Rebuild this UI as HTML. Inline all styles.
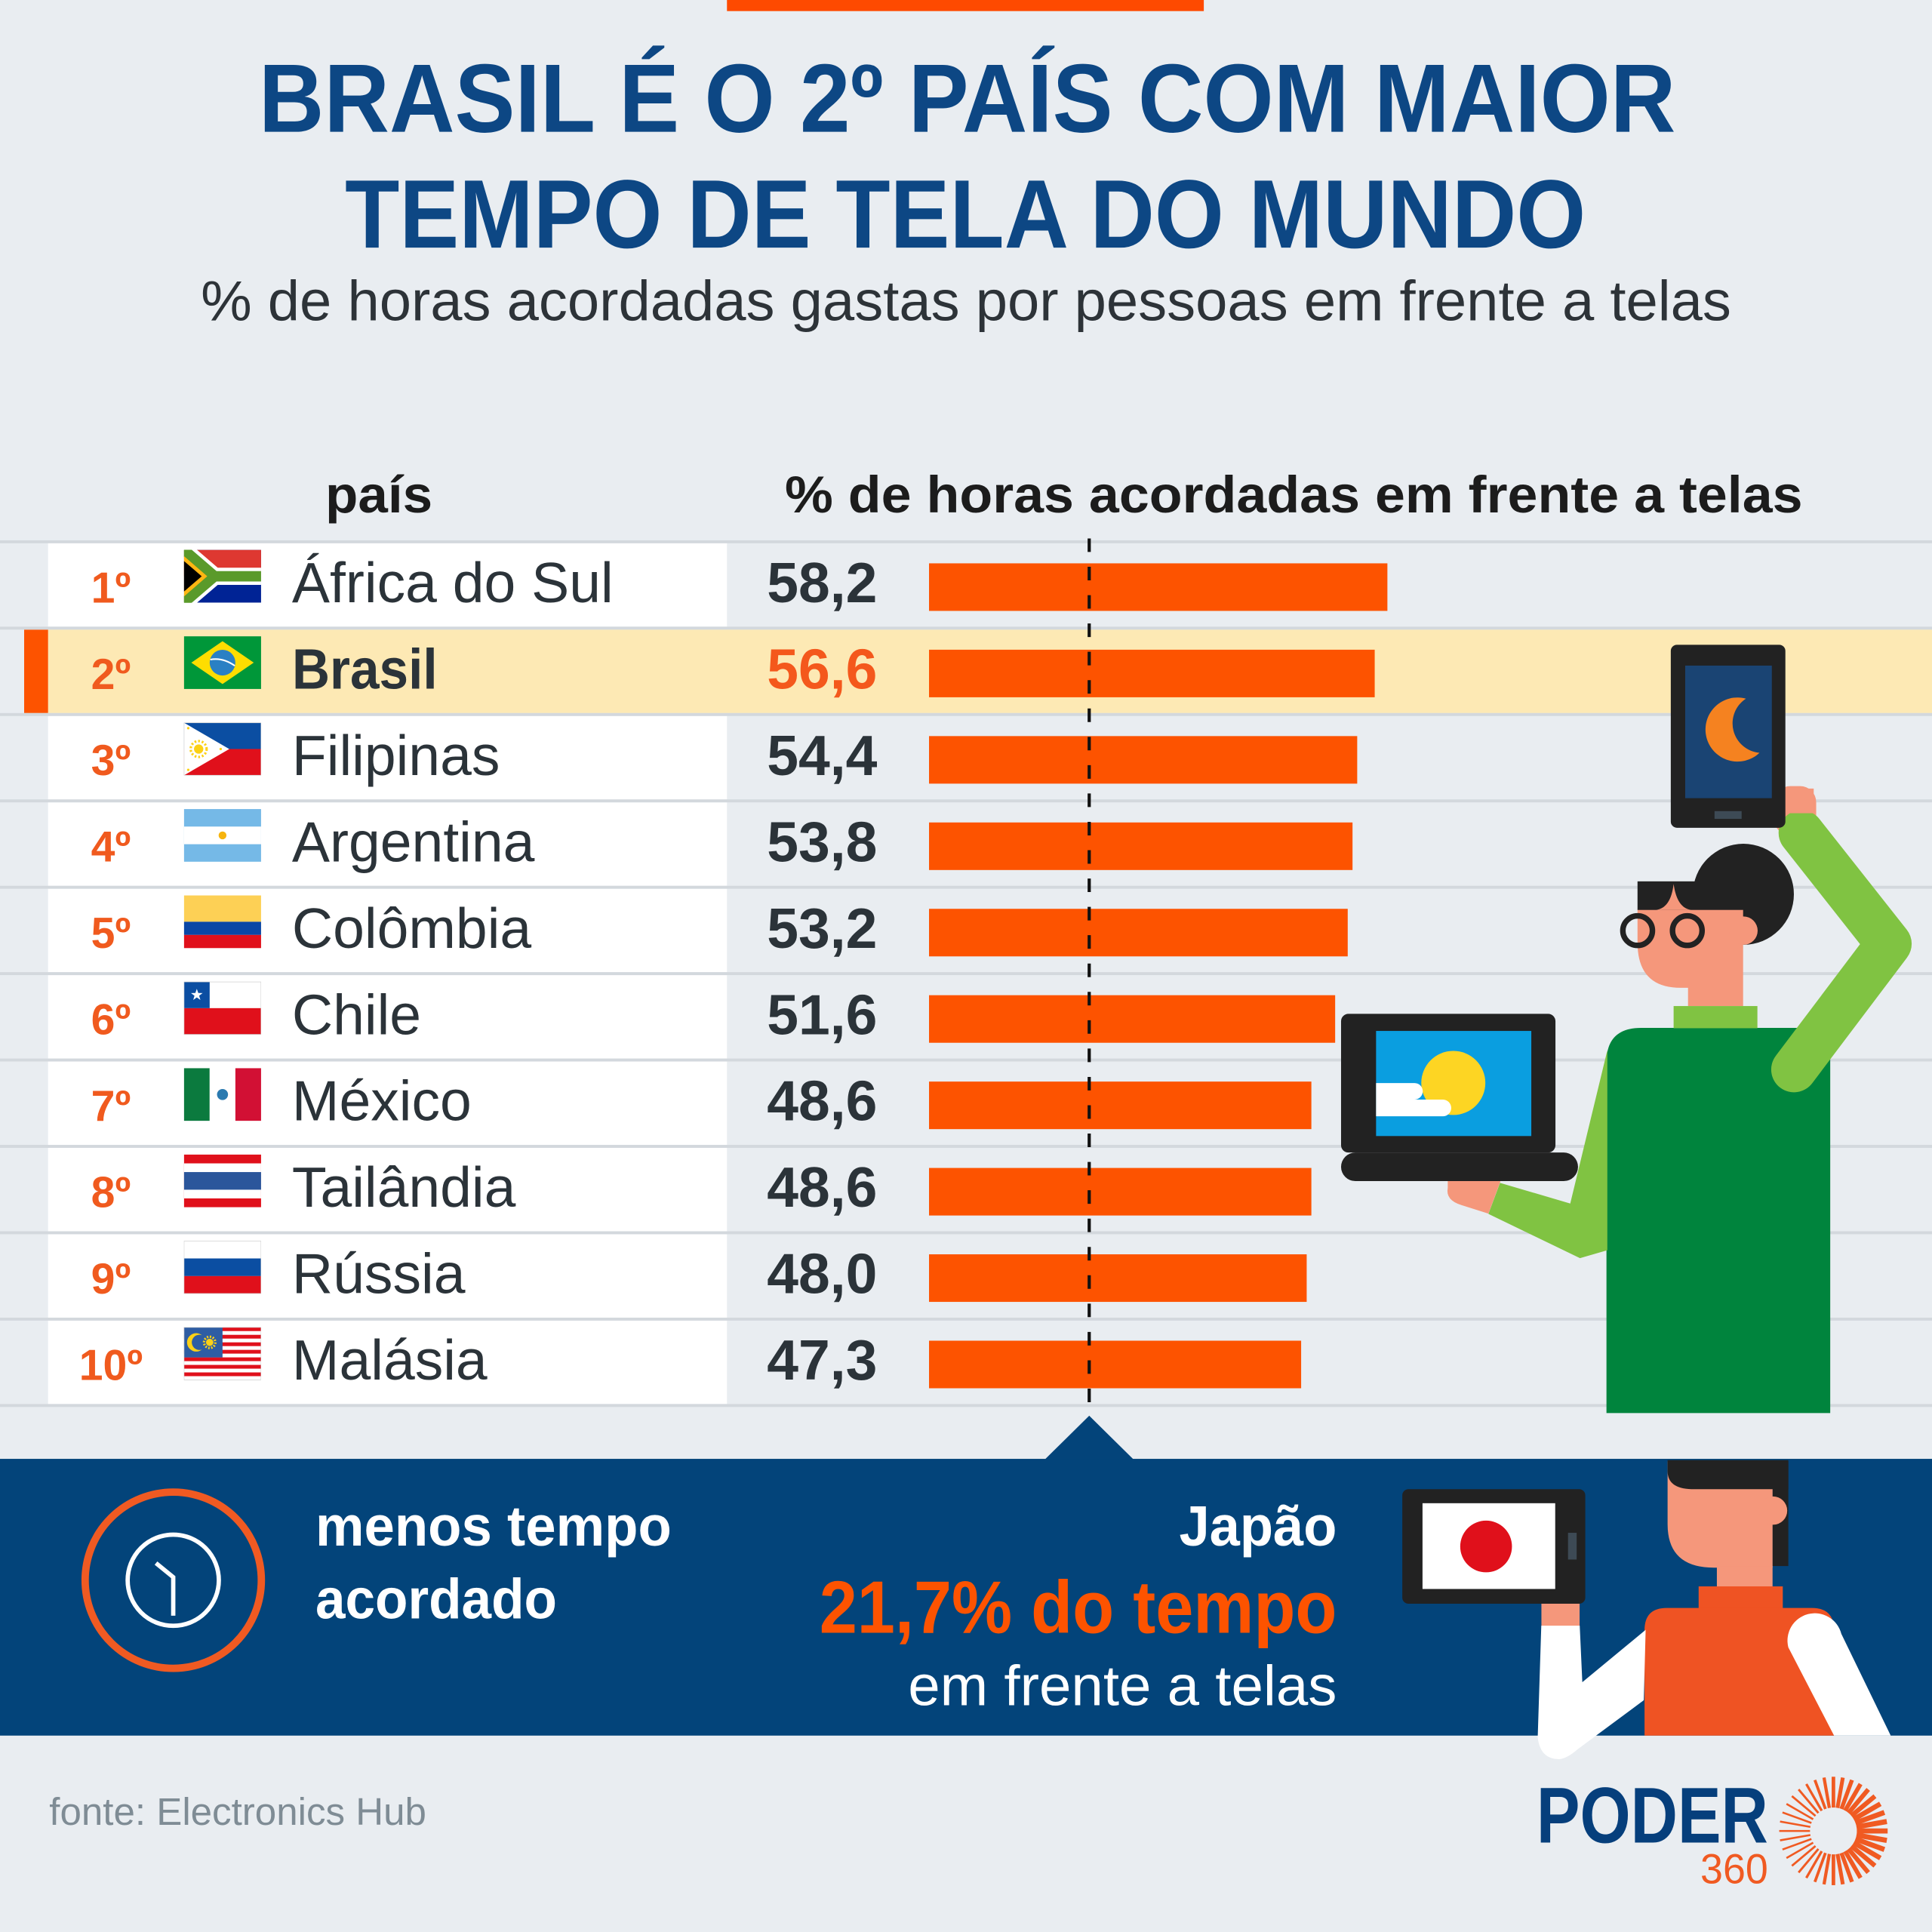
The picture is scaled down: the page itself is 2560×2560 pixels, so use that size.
<!DOCTYPE html>
<html><head><meta charset="utf-8"><style>html,body{margin:0;padding:0;background:#e9edf1;}svg{display:block}</style></head><body>
<svg xmlns="http://www.w3.org/2000/svg" width="2560" height="2560" viewBox="0 0 1568 1568" font-family="'Liberation Sans','DejaVu Sans',sans-serif">
<rect width="1568" height="1568" fill="#e9edf1"/>
<rect x="590" y="0" width="387" height="9" fill="#fe4a00"/>
<text x="210" y="107" font-size="79" font-weight="bold" fill="#0d4784" textLength="1150" lengthAdjust="spacingAndGlyphs">BRASIL É O 2º PAÍS COM MAIOR</text>
<text x="280" y="201" font-size="79" font-weight="bold" fill="#0d4784" textLength="1007" lengthAdjust="spacingAndGlyphs">TEMPO DE TELA DO MUNDO</text>
<text x="163" y="260" font-size="46" fill="#2d3338" textLength="1242" lengthAdjust="spacingAndGlyphs">% de horas acordadas gastas por pessoas em frente a telas</text>
<text x="264" y="416" font-size="42" font-weight="bold" fill="#1c1c1c" textLength="87" lengthAdjust="spacingAndGlyphs">país</text>
<text x="637" y="416" font-size="42" font-weight="bold" fill="#1c1c1c" textLength="826" lengthAdjust="spacingAndGlyphs">% de horas acordadas em frente a telas</text>

<!-- row backgrounds -->
<g fill="#ffffff">
<rect x="39" y="440.9" width="551" height="67.7"/>
<rect x="39" y="581.1" width="551" height="67.7"/>
<rect x="39" y="651.2" width="551" height="67.7"/>
<rect x="39" y="721.3" width="551" height="67.7"/>
<rect x="39" y="791.4" width="551" height="67.7"/>
<rect x="39" y="861.5" width="551" height="67.7"/>
<rect x="39" y="931.6" width="551" height="67.7"/>
<rect x="39" y="1001.7" width="551" height="67.7"/>
<rect x="39" y="1071.8" width="551" height="67.7"/>
</g>
<rect x="39" y="511" width="1529" height="67.7" fill="#fde9b4"/>
<rect x="19.6" y="511" width="19.4" height="67.7" fill="#fd5300"/>
<!-- lines -->
<g fill="#d3d8dd">
<rect x="0" y="438.5" width="1568" height="2.4"/>
<rect x="0" y="508.6" width="1568" height="2.4"/>
<rect x="0" y="578.7" width="1568" height="2.4"/>
<rect x="0" y="648.8" width="1568" height="2.4"/>
<rect x="0" y="718.9" width="1568" height="2.4"/>
<rect x="0" y="789" width="1568" height="2.4"/>
<rect x="0" y="859.1" width="1568" height="2.4"/>
<rect x="0" y="929.2" width="1568" height="2.4"/>
<rect x="0" y="999.3" width="1568" height="2.4"/>
<rect x="0" y="1069.4" width="1568" height="2.4"/>
<rect x="0" y="1139.5" width="1568" height="2.4"/>
</g>

<!-- ranks -->
<g font-size="35" font-weight="bold" fill="#f05a1e" text-anchor="middle">
<text x="90" y="489">1º</text>
<text x="90" y="559.1">2º</text>
<text x="90" y="629.2">3º</text>
<text x="90" y="699.3">4º</text>
<text x="90" y="769.4">5º</text>
<text x="90" y="839.5">6º</text>
<text x="90" y="909.6">7º</text>
<text x="90" y="979.7">8º</text>
<text x="90" y="1049.8">9º</text>
<text x="90" y="1119.9">10º</text>
</g>
<!-- names -->
<g font-size="46" fill="#2b3339">
<text x="237" y="488.8">África do Sul</text>
<text x="237" y="558.9" font-weight="bold" textLength="118" lengthAdjust="spacingAndGlyphs">Brasil</text>
<text x="237" y="629">Filipinas</text>
<text x="237" y="699.1">Argentina</text>
<text x="237" y="769.2">Colômbia</text>
<text x="237" y="839.3">Chile</text>
<text x="237" y="909.4">México</text>
<text x="237" y="979.5">Tailândia</text>
<text x="237" y="1049.6">Rússia</text>
<text x="237" y="1119.7">Malásia</text>
</g>
<!-- values -->
<g font-size="46" font-weight="bold" fill="#2b3339" text-anchor="end">
<text x="712" y="488.8">58,2</text>
<text x="712" y="558.9" fill="#f4581c">56,6</text>
<text x="712" y="629">54,4</text>
<text x="712" y="699.1">53,8</text>
<text x="712" y="769.2">53,2</text>
<text x="712" y="839.3">51,6</text>
<text x="712" y="909.4">48,6</text>
<text x="712" y="979.5">48,6</text>
<text x="712" y="1049.6">48,0</text>
<text x="712" y="1119.7">47,3</text>
</g>
<!-- bars -->
<g fill="#fd5300">
<rect x="754" y="457.2" width="372" height="38.6"/>
<rect x="754" y="527.3" width="361.7" height="38.6"/>
<rect x="754" y="597.4" width="347.5" height="38.6"/>
<rect x="754" y="667.5" width="343.7" height="38.6"/>
<rect x="754" y="737.6" width="339.8" height="38.6"/>
<rect x="754" y="807.7" width="329.6" height="38.6"/>
<rect x="754" y="877.8" width="310.3" height="38.6"/>
<rect x="754" y="947.9" width="310.3" height="38.6"/>
<rect x="754" y="1018" width="306.5" height="38.6"/>
<rect x="754" y="1088.1" width="302" height="38.6"/>
</g>
<line x1="884" y1="437" x2="884" y2="1150" stroke="#111" stroke-width="2.6" stroke-dasharray="11 12"/>

<!-- flags -->
<svg x="149.3" y="446.2" width="62.6" height="43" viewBox="0 0 63 43">
<rect width="63" height="43" fill="#002395"/><rect width="63" height="21.5" fill="#de3831"/>
<path d="M0,0 L25,21.5 L63,21.5 M0,43 L25,21.5" stroke="#fff" stroke-width="14" fill="none"/>
<path d="M0,0 L25,21.5 L63,21.5 M0,43 L25,21.5" stroke="#5a9a2a" stroke-width="8.5" fill="none"/>
<polygon points="0,5 19,21.5 0,38" fill="#ffb612"/><polygon points="0,9 14.5,21.5 0,34" fill="#000"/>
</svg>
<svg x="149.3" y="516.3" width="62.6" height="43" viewBox="0 0 63 43">
<rect width="63" height="43" fill="#009739"/><polygon points="6,21.5 31.5,4 57,21.5 31.5,39" fill="#fedd00"/>
<circle cx="31.5" cy="21.5" r="10.5" fill="#2a80c4"/><path d="M21.5,19 Q31.5,17 41.5,24" stroke="#fff" stroke-width="1.3" fill="none"/>
</svg>
<svg x="149.3" y="586.4" width="62.6" height="43" viewBox="0 0 63 43">
<rect width="63" height="21.5" fill="#0b4ea2"/><rect y="21.5" width="63" height="21.5" fill="#e0101b"/>
<polygon points="0,0 37,21.5 0,43" fill="#fff"/><circle cx="12" cy="21.5" r="3.8" fill="#fcd116"/>
<circle cx="12" cy="21.5" r="6.5" fill="none" stroke="#fcd116" stroke-width="2" stroke-dasharray="1.5 1.5"/>
<circle cx="3.5" cy="4.5" r="1" fill="#fcd116"/><circle cx="3.5" cy="38.5" r="1" fill="#fcd116"/><circle cx="30" cy="21.5" r="1" fill="#fcd116"/>
<rect width="63" height="43" fill="none" stroke="#ccc" stroke-width="0.6"/>
</svg>
<svg x="149.3" y="656.5" width="62.6" height="43" viewBox="0 0 63 43">
<rect width="63" height="43" fill="#75b9e7"/><rect y="14.3" width="63" height="14.4" fill="#fff"/>
<circle cx="31.5" cy="21.5" r="3.2" fill="#f6b40e"/>
</svg>
<svg x="149.3" y="726.6" width="62.6" height="43" viewBox="0 0 63 43">
<rect width="63" height="21.5" fill="#fdd055"/><rect y="21.5" width="63" height="10.75" fill="#0a47a5"/><rect y="32.25" width="63" height="10.75" fill="#e0101b"/>
</svg>
<svg x="149.3" y="796.7" width="62.6" height="43" viewBox="0 0 63 43">
<rect width="63" height="21.5" fill="#fff"/><rect y="21.5" width="63" height="21.5" fill="#e0101b"/><rect width="21" height="21.5" fill="#0b4ea2"/>
<polygon points="10.5,5.75 11.68,9.13 15.26,9.2 12.4,11.37 13.44,14.8 10.5,12.75 7.56,14.8 8.6,11.37 5.74,9.2 9.32,9.13" fill="#fff"/>
<rect width="63" height="43" fill="none" stroke="#ccc" stroke-width="0.6"/>
</svg>
<svg x="149.3" y="866.8" width="62.6" height="43" viewBox="0 0 63 43">
<rect width="21" height="43" fill="#0b7a3e"/><rect x="21" width="21" height="43" fill="#fff"/><rect x="42" width="21" height="43" fill="#d21034"/>
<circle cx="31.5" cy="21.5" r="4.5" fill="#2a7ab0"/>
</svg>
<svg x="149.3" y="936.9" width="62.6" height="43" viewBox="0 0 63 43">
<rect width="63" height="43" fill="#e0101b"/><rect y="7.2" width="63" height="28.6" fill="#fff"/><rect y="14.3" width="63" height="14.4" fill="#2b569b"/>
</svg>
<svg x="149.3" y="1007" width="62.6" height="43" viewBox="0 0 63 43">
<rect width="63" height="14.3" fill="#fff"/><rect y="14.3" width="63" height="14.4" fill="#0b4ea2"/><rect y="28.7" width="63" height="14.3" fill="#e0101b"/>
<rect width="63" height="43" fill="none" stroke="#ccc" stroke-width="0.6"/>
</svg>
<svg x="149.3" y="1077.1" width="62.6" height="43" viewBox="0 0 63 43">
<rect width="63" height="43" fill="#fff"/>
<g fill="#e0101b"><rect y="0" width="63" height="3.07"/><rect y="6.14" width="63" height="3.07"/><rect y="12.28" width="63" height="3.07"/><rect y="18.42" width="63" height="3.07"/><rect y="24.56" width="63" height="3.07"/><rect y="30.7" width="63" height="3.07"/><rect y="36.84" width="63" height="3.07"/></g>
<rect width="31.5" height="24.6" fill="#2e5da3"/><circle cx="10" cy="12.3" r="7.5" fill="#fcd116"/><circle cx="12.6" cy="12.3" r="6.2" fill="#2e5da3"/>
<circle cx="21" cy="12.3" r="3" fill="#fcd116"/><circle cx="21" cy="12.3" r="4.6" fill="none" stroke="#fcd116" stroke-width="2" stroke-dasharray="1.2 1.2"/>
<rect width="63" height="43" fill="none" stroke="#ccc" stroke-width="0.6"/>
</svg>

<!-- top illustration person -->
<path d="M1303.8,1146.8 L1303.8,862 Q1303.8,834.2 1332,834.2 L1485.4,834.2 L1485.4,1146.8 Z" fill="#00843d"/>
<rect x="1358.3" y="816.5" width="68" height="18" fill="#80c342"/>
<circle cx="1414.9" cy="725.8" r="41" fill="#222"/>
<path d="M1329,738 L1414.7,738 L1414.7,816.5 L1370,816.5 L1370,801.7 L1364,801.7 Q1329,801.7 1329,765 Z" fill="#f5977b"/>
<rect x="1329" y="715.3" width="86" height="23.2" fill="#222"/>
<path d="M1344,738.5 Q1356,737 1358.3,717.4 Q1361,737 1372.5,738.5 Z" fill="#f5977b"/>
<circle cx="1415" cy="755.3" r="11.5" fill="#f5977b"/>
<circle cx="1329.1" cy="755.3" r="12" fill="none" stroke="#222" stroke-width="4.5"/>
<circle cx="1369.4" cy="755.3" r="12" fill="none" stroke="#222" stroke-width="4.5"/>
<rect x="1440" y="638" width="34" height="40" rx="13" fill="#f5977b"/>
<polyline points="1456,868 1533,766 1462,676" fill="none" stroke="#80c342" stroke-width="37" stroke-linejoin="round" stroke-linecap="round"/>
<rect x="1440" y="640" width="32" height="20" fill="#f5977b"/>
<rect x="1356" y="523.3" width="93" height="148.5" rx="5" fill="#222"/>
<rect x="1367.7" y="540.2" width="70.3" height="107.6" fill="#1a4473"/>
<rect x="1391.5" y="658.3" width="22" height="6.3" fill="#3d4a55"/>
<path d="M1417,567 A26,26 0 1 0 1428,611 A24,24 0 0 1 1417,567 Z" fill="#f58220"/>
<!-- left arm and laptop -->
<polygon points="1304.5,852.4 1274.4,976.8 1217.4,960 1208,985.2 1282.3,1021.1 1304.5,1014.7" fill="#80c342"/>
<path d="M1175,958 L1218,958 L1208,985 L1186,978 Q1173,974 1175,964 Z" fill="#f5977b"/>
<rect x="1088.4" y="822.8" width="174" height="112.6" rx="6" fill="#222"/>
<rect x="1116.8" y="836.7" width="126" height="85.3" fill="#0a9ee0"/>
<circle cx="1179.5" cy="878.9" r="26" fill="#fdd523"/>
<path d="M1116.8,879 L1148,879 A6.7,6.7 0 0 1 1148,892.4 L1116.8,892.4 Z" fill="#fff"/>
<path d="M1116.8,892.4 L1171,892.4 A6.8,6.8 0 0 1 1171,906 L1116.8,906 Z" fill="#fff"/>
<rect x="1088.4" y="935.4" width="192.3" height="23.2" rx="11.6" fill="#222"/>

<!-- bottom band -->
<rect x="0" y="1184" width="1568" height="224.6" fill="#03447a"/>
<polygon points="848,1184.5 884,1149 920,1184.5" fill="#03447a"/>
<circle cx="140.6" cy="1282.5" r="71.5" fill="none" stroke="#f05a22" stroke-width="6"/>
<circle cx="140.6" cy="1282.5" r="37" fill="none" stroke="#fff" stroke-width="3.5"/>
<polyline points="126.6,1268.6 140.6,1280 140.6,1311.3" fill="none" stroke="#fff" stroke-width="3.5"/>
<text x="256" y="1254.5" font-size="46" font-weight="bold" fill="#fff" textLength="289" lengthAdjust="spacingAndGlyphs">menos tempo</text>
<text x="256" y="1313.6" font-size="46" font-weight="bold" fill="#fff" textLength="196" lengthAdjust="spacingAndGlyphs">acordado</text>
<text x="957" y="1254.5" font-size="46" font-weight="bold" fill="#fff" textLength="128" lengthAdjust="spacingAndGlyphs">Japão</text>
<text x="665" y="1325.3" font-size="60" font-weight="bold" fill="#fd5300" textLength="420" lengthAdjust="spacingAndGlyphs">21,7% do tempo</text>
<text x="737" y="1383.9" font-size="46" fill="#fff" textLength="348" lengthAdjust="spacingAndGlyphs">em frente a telas</text>

<!-- bottom person -->
<rect x="1438.6" y="1186" width="12.8" height="85" fill="#222"/>
<path d="M1353.4,1186 L1438.6,1186 L1438.6,1272.3 L1391,1272.3 Q1353.4,1272.3 1353.4,1237 Z" fill="#f5977b"/>
<path d="M1353.4,1185 L1451.4,1185 L1451.4,1208.6 L1372.7,1208.6 Q1353.4,1208 1353.4,1194 Z" fill="#222"/>
<circle cx="1439" cy="1226" r="11.5" fill="#f5977b"/>
<rect x="1393.4" y="1271" width="45.2" height="17" fill="#f5977b"/>
<rect x="1378.6" y="1287.5" width="68.3" height="18" fill="#ef5323"/>
<path d="M1334.7,1408.6 L1334.7,1323 Q1334.7,1305 1352.7,1305 L1470.5,1305 Q1488.5,1305 1488.5,1323 L1488.5,1408.6 Z" fill="#ef5323"/>
<path d="M1451.4,1337 A21.5,21.5 0 0 1 1494.4,1326 L1534.5,1408.6 L1488.5,1408.6 Z" fill="#fff"/>
<rect x="1251" y="1298" width="31" height="22" fill="#f5977b"/>
<rect x="1138.1" y="1208.6" width="148.5" height="93" rx="5" fill="#222"/>
<rect x="1154.5" y="1220" width="107.7" height="69.6" fill="#fff"/>
<circle cx="1206.1" cy="1255.1" r="21" fill="#e0101b"/>
<rect x="1272.6" y="1244" width="7" height="21.7" fill="#3d4a55"/>
<path d="M1250.9,1319.4 L1248,1410 Q1250,1428 1265.8,1427.7 Q1272,1427 1280,1420 L1334.1,1379.9 L1335.6,1322.8 L1284.2,1365.3 L1282.1,1319.4 Z" fill="#fff"/>

<!-- footer -->
<text x="40" y="1481" font-size="31" fill="#7f8c95" textLength="306" lengthAdjust="spacingAndGlyphs">fonte: Electronics Hub</text>
<text x="1247" y="1495.5" font-size="64" font-weight="bold" fill="#063f7c" textLength="188" lengthAdjust="spacingAndGlyphs">PODER</text>
<text x="1380" y="1528.6" font-size="34" fill="#f05a22" textLength="55" lengthAdjust="spacingAndGlyphs">360</text>
<g stroke="#f05a22">
<line x1="1507" y1="1486" x2="1532" y2="1486" stroke-width="4.2" transform="rotate(0 1488 1486)"/>
<line x1="1507" y1="1486" x2="1532" y2="1486" stroke-width="4.2" transform="rotate(10 1488 1486)"/>
<line x1="1507" y1="1486" x2="1532" y2="1486" stroke-width="4.1" transform="rotate(20 1488 1486)"/>
<line x1="1507" y1="1486" x2="1532" y2="1486" stroke-width="4" transform="rotate(30 1488 1486)"/>
<line x1="1507" y1="1486" x2="1532" y2="1486" stroke-width="3.8" transform="rotate(40 1488 1486)"/>
<line x1="1507" y1="1486" x2="1532" y2="1486" stroke-width="3.7" transform="rotate(50 1488 1486)"/>
<line x1="1507" y1="1486" x2="1532" y2="1486" stroke-width="3.5" transform="rotate(60 1488 1486)"/>
<line x1="1507" y1="1486" x2="1532" y2="1486" stroke-width="3.3" transform="rotate(70 1488 1486)"/>
<line x1="1507" y1="1486" x2="1532" y2="1486" stroke-width="3.1" transform="rotate(80 1488 1486)"/>
<line x1="1507" y1="1486" x2="1532" y2="1486" stroke-width="2.9" transform="rotate(90 1488 1486)"/>
<line x1="1507" y1="1486" x2="1532" y2="1486" stroke-width="2.6" transform="rotate(100 1488 1486)"/>
<line x1="1507" y1="1486" x2="1532" y2="1486" stroke-width="2.3" transform="rotate(110 1488 1486)"/>
<line x1="1507" y1="1486" x2="1532" y2="1486" stroke-width="2" transform="rotate(120 1488 1486)"/>
<line x1="1507" y1="1486" x2="1532" y2="1486" stroke-width="1.8" transform="rotate(130 1488 1486)"/>
<line x1="1507" y1="1486" x2="1532" y2="1486" stroke-width="1.7" transform="rotate(140 1488 1486)"/>
<line x1="1507" y1="1486" x2="1532" y2="1486" stroke-width="1.6" transform="rotate(150 1488 1486)"/>
<line x1="1507" y1="1486" x2="1532" y2="1486" stroke-width="1.6" transform="rotate(160 1488 1486)"/>
<line x1="1507" y1="1486" x2="1532" y2="1486" stroke-width="1.6" transform="rotate(170 1488 1486)"/>
<line x1="1507" y1="1486" x2="1532" y2="1486" stroke-width="1.6" transform="rotate(180 1488 1486)"/>
<line x1="1507" y1="1486" x2="1532" y2="1486" stroke-width="1.6" transform="rotate(190 1488 1486)"/>
<line x1="1507" y1="1486" x2="1532" y2="1486" stroke-width="1.6" transform="rotate(200 1488 1486)"/>
<line x1="1507" y1="1486" x2="1532" y2="1486" stroke-width="1.6" transform="rotate(210 1488 1486)"/>
<line x1="1507" y1="1486" x2="1532" y2="1486" stroke-width="1.7" transform="rotate(220 1488 1486)"/>
<line x1="1507" y1="1486" x2="1532" y2="1486" stroke-width="1.8" transform="rotate(230 1488 1486)"/>
<line x1="1507" y1="1486" x2="1532" y2="1486" stroke-width="2" transform="rotate(240 1488 1486)"/>
<line x1="1507" y1="1486" x2="1532" y2="1486" stroke-width="2.3" transform="rotate(250 1488 1486)"/>
<line x1="1507" y1="1486" x2="1532" y2="1486" stroke-width="2.6" transform="rotate(260 1488 1486)"/>
<line x1="1507" y1="1486" x2="1532" y2="1486" stroke-width="2.9" transform="rotate(270 1488 1486)"/>
<line x1="1507" y1="1486" x2="1532" y2="1486" stroke-width="3.1" transform="rotate(280 1488 1486)"/>
<line x1="1507" y1="1486" x2="1532" y2="1486" stroke-width="3.3" transform="rotate(290 1488 1486)"/>
<line x1="1507" y1="1486" x2="1532" y2="1486" stroke-width="3.5" transform="rotate(300 1488 1486)"/>
<line x1="1507" y1="1486" x2="1532" y2="1486" stroke-width="3.7" transform="rotate(310 1488 1486)"/>
<line x1="1507" y1="1486" x2="1532" y2="1486" stroke-width="3.8" transform="rotate(320 1488 1486)"/>
<line x1="1507" y1="1486" x2="1532" y2="1486" stroke-width="4" transform="rotate(330 1488 1486)"/>
<line x1="1507" y1="1486" x2="1532" y2="1486" stroke-width="4.1" transform="rotate(340 1488 1486)"/>
<line x1="1507" y1="1486" x2="1532" y2="1486" stroke-width="4.2" transform="rotate(350 1488 1486)"/>
</g>
</svg>
</body></html>
